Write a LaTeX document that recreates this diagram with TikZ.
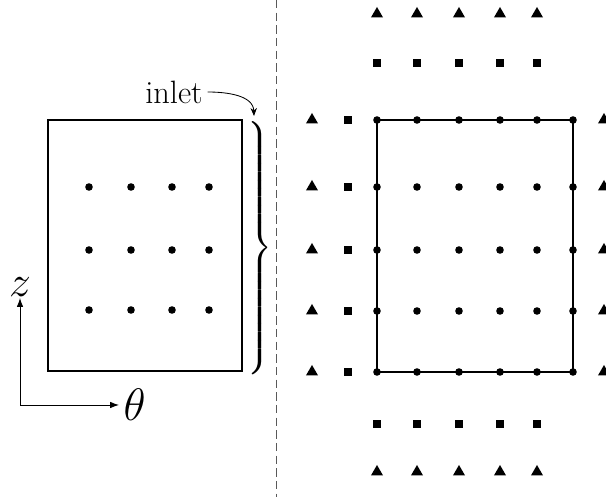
\documentclass[tikz,border=0pt]{standalone}
\usepackage{graphicx}
\usetikzlibrary{shapes.geometric, arrows.meta, positioning}

\begin{document}
\begin{tikzpicture}[x=0.025cm, y=-0.025cm,
    dot/.style={circle, fill, inner sep=0pt, minimum size=0.19cm},
    ghostsq/.style={rectangle, fill, inner sep=0pt, minimum size=0.21cm},
    ghosttri/.style={regular polygon, regular polygon sides=3, fill,
                     inner sep=0pt, minimum size=0.35cm},
    frame/.style={line width=0.9pt},
    axis/.style={-{Latex[length=2.2mm, width=1.6mm]}, line width=0.6pt},
    biglabel/.style={font=\Huge}
]
    \useasboundingbox (0,0) rectangle (606,497);

    % left: the domain with its interior points
    \coordinate (dom-nw) at (48,120);
    \coordinate (dom-se) at (242,371);
    \draw[frame] (dom-nw) rectangle (dom-se);
    \foreach \x [count=\i] in {89,131,172,209}
        \foreach \y [count=\j] in {187,250,310}
            \node[dot] (p-\i-\j) at (\x,\y) {};

    \node[inner sep=0pt, anchor=west] (brace) at (244,249)
        {\scalebox{2}{$\left.\vrule height 1.52cm depth 1.52cm width 0pt\right\}$}};
    \node[font=\fontsize{23}{26}\selectfont] (inlet) at (174,92) {inlet};
    \coordinate (inlet-end) at (254,116);
    \draw[-{Stealth[length=2mm, width=1.6mm]}, line width=0.6pt]
        (inlet.east) to[out=0, in=92] (inlet-end);

    % axes
    \coordinate (o) at (20,405);
    \draw[axis] (o) -- (20,298)
        node[biglabel, above, inner sep=1pt] (zlab) {\scalebox{1.25}{$z$}};
    \draw[axis] (o) -- (119,405)
        node[biglabel, right, inner sep=3pt] (thlab) {\scalebox{1.3}{$\theta$}};

    % separator
    \draw[gray!70!black, dash pattern=on 6pt off 3pt, line width=0.6pt]
        (276,0) -- (276,497);

    % right: grid with ghost layers
    \foreach \x [count=\i] in {377,417,459,500,537,573}
        \foreach \y [count=\j] in {120,187,250,311,372}
            \coordinate (g-\i-\j) at (\x,\y);
    \draw[frame] (g-1-1) rectangle (g-6-5);
    \foreach \i in {1,...,6}
        \foreach \j in {1,...,5}
            \node[dot] (d-\i-\j) at (g-\i-\j) {};

    \foreach \y [count=\j] in {120,187,250,311,372} {
        \node[ghostsq] (sq-w-\j) at (348,\y) {};
        \node[ghosttri] (tr-w-\j) at (312,\y) {};
        \node[ghosttri] (tr-e-\j) at (604,\y) {};
    }
    \foreach \x [count=\i] in {377,417,459,500,537} {
        \node[ghostsq] (sq-n-\i) at (\x,63) {};
        \node[ghosttri] (tr-n-\i) at (\x,14) {};
        \node[ghostsq] (sq-s-\i) at (\x,424) {};
        \node[ghosttri] (tr-s-\i) at (\x,472) {};
    }
\end{tikzpicture}
\end{document}
